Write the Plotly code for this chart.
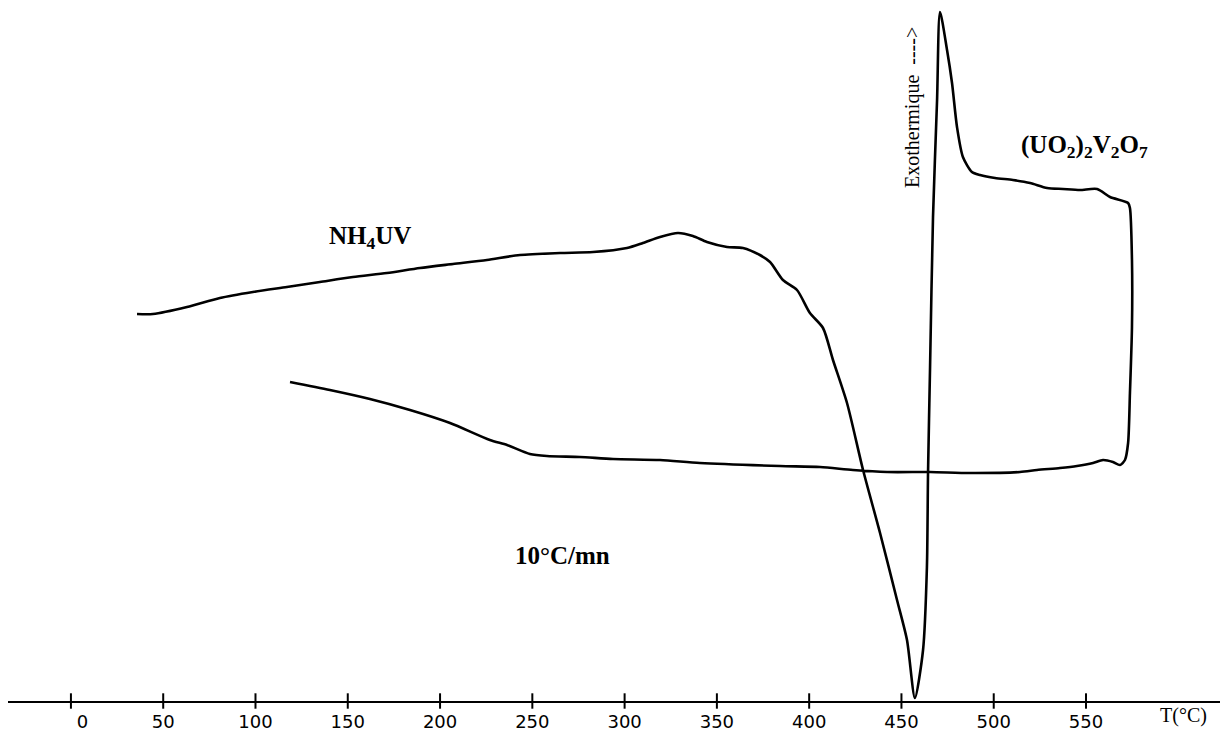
import plotly.graph_objects as go

# DTA trace of NH4UV, heating at 10 °C/min then cooling back (arbitrary signal units)
temp_c = [
    35.8, 44.4, 62.9, 80.7, 98.6, 117.0, 134.9, 152.8, 171.2, 189.1, 207.0, 225.4,
    243.3, 265.0, 282.9, 301.3, 309.9, 319.2, 328.9, 337.0, 344.6, 355.5, 364.1,
    373.3, 378.8, 385.8, 393.4, 400.4, 407.5, 412.9, 420.5, 429.2, 438.4, 447.6,
    453.0, 457.3, 461.7, 463.8, 464.4, 465.5, 467.1, 469.3, 470.9, 474.7, 477.4,
    480.1, 483.3, 488.2, 492.6, 500.7, 510.4, 519.7, 528.9, 537.5, 546.7, 556.0,
    563.0, 572.8, 573.8, 574.9, 574.9, 573.8, 572.8, 571.1, 568.4, 564.6, 559.2,
    553.8, 545.1, 535.9, 523.4, 514.2, 487.1, 465.5, 442.2, 423.7, 405.9, 384.2,
    340.8, 319.2, 293.7, 275.8, 257.9, 248.7, 236.3, 227.0, 205.4, 183.7, 162.0,
    140.3, 118.7,
]
signal = [
    387, 387, 394, 403, 409, 414, 419, 424, 428, 433, 437, 441,
    446, 448, 449, 453, 458, 464, 468, 465, 459, 454, 453,
    446, 439, 421, 411, 388, 373, 341, 298, 231, 168, 101,
    61, 3, 51, 134, 228, 334, 484, 601, 689, 651, 618,
    574, 544, 529, 526, 523, 521, 518, 513, 512, 511, 512,
    504, 498, 493, 441, 374, 308, 258, 241, 236, 239, 241,
    238, 235, 233, 231, 229, 228, 229, 229, 231, 234, 235,
    238, 241, 242, 244, 245, 247, 256, 261, 278, 291, 302,
    311, 319,
]

tick_values = [0, 50, 100, 150, 200, 250, 300, 350, 400, 450, 500, 550]
tick_labels = ["\u00a0\u00a0\u00a0\u00a00", "50", "100", "150", "200", "250", "300",
               "350", "400", "450", "500", "550"]

serif = "Liberation Serif, Times New Roman, serif"

# figure geometry in pixels
W, H = 1225, 733
ML, MR, MT, MB = 8, 5, 5, 32
plot_w = W - ML - MR
plot_h = H - MT - MB


def px_to_paper(px, py):
    return (px - ML) / plot_w, (H - MB - py) / plot_h


fig = go.Figure()

fig.add_trace(go.Scatter(
    x=temp_c, y=signal, mode="lines",
    line=dict(color="black", width=2.6, shape="spline", smoothing=0.7),
    hoverinfo="skip", showlegend=False,
))

# cross-shaped tick marks straddling the temperature axis
fig.add_trace(go.Scatter(
    x=tick_values, y=[0] * len(tick_values), mode="markers",
    marker=dict(symbol="line-ns", size=11, line=dict(color="black", width=2)),
    hoverinfo="skip", showlegend=False, cliponaxis=False,
))

labels = [
    # (text, x px, y px, size, bold, angle)
    ("T(°C)", 1183, 715, 20, False, 0),
    ("NH<sub>4</sub>UV", 370, 237, 25, True, 0),
    ("(UO<sub>2</sub>)<sub>2</sub>V<sub>2</sub>O<sub>7</sub>", 1084, 147, 25, True, 0),
    ("10°C/mn", 562, 555, 25, True, 0),
    ("Exothermique  ---->", 913, 108, 20, False, -90),
]
annotations = []
for text, px, py, size, bold, angle in labels:
    ax, ay = px_to_paper(px, py)
    annotations.append(dict(
        x=ax, y=ay, xref="paper", yref="paper", text=text, showarrow=False,
        textangle=angle, xanchor="center", yanchor="middle",
        font=dict(family=serif, size=size, color="black",
                  weight="bold" if bold else "normal"),
    ))

fig.update_layout(
    width=W, height=H,
    margin=dict(l=ML, r=MR, t=MT, b=MB, autoexpand=False),
    paper_bgcolor="white", plot_bgcolor="white",
    showlegend=False,
    xaxis=dict(
        range=[-34.1, 622.6], showgrid=False, zeroline=False, automargin=False,
        showline=True, linecolor="black", linewidth=2,
        tickvals=tick_values, ticktext=tick_labels,
        ticks="outside", ticklen=3, tickcolor="rgba(0,0,0,0)",
        tickfont=dict(family="DejaVu Sans, sans-serif", size=18, color="black"),
    ),
    yaxis=dict(range=[0, 696], visible=False, automargin=False),
    annotations=annotations,
)

fig.write_html("out.html")
